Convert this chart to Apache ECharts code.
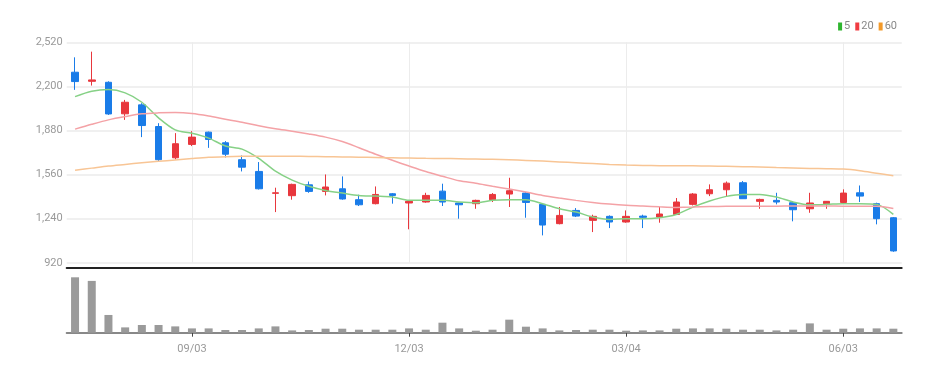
<!DOCTYPE html>
<html><head><meta charset="utf-8">
<script src="https://cdn.jsdelivr.net/npm/echarts@6/dist/echarts.min.js"></script>
<style>html,body{margin:0;padding:0;background:#fff}#c{width:946px;height:374px}</style>
</head><body><div id="c"></div>
<script>
const dates = ['07/16','07/23','07/30','08/06','08/13','08/20','08/27','09/03','09/10','09/17',
  '09/24','10/01','10/08','10/15','10/22','10/29','11/05','11/12','11/19','11/26',
  '12/03','12/10','12/17','12/24','12/31','01/07','01/14','01/21','01/28','02/04',
  '02/11','02/18','02/25','03/04','03/11','03/18','03/25','04/01','04/08','04/15',
  '04/22','04/29','05/06','05/13','05/20','05/27','06/03','06/10','06/17','06/24'];
const tickLabels = ['09/03','12/03','03/04','06/03'];
const opens = [2303,2237,2230,2001,2066,1909,1682,1779,1868,1791,1668,1583,1424,1407,1486,1438,1457,1378,1349,1421,1354,1361,1440,1354,1349,1378,1419,1426,1344,1204,1300,1228,1257,1216,1259,1252,1271,1344,1421,1450,1501,1366,1373,1356,1312,1349,1358,1428,1349,1247];
const closes = [2235,2247,2000,2085,1916,1668,1784,1832,1815,1708,1614,1457,1428,1489,1438,1470,1383,1341,1416,1409,1366,1409,1361,1341,1373,1416,1443,1358,1194,1264,1259,1257,1216,1257,1250,1274,1361,1419,1450,1498,1385,1380,1361,1305,1354,1366,1426,1404,1240,1006];
const lows = [2175,2206,1993,1957,1832,1658,1670,1767,1754,1684,1583,1452,1288,1378,1428,1409,1378,1332,1344,1349,1163,1356,1332,1240,1312,1361,1325,1247,1119,1199,1252,1143,1172,1211,1172,1211,1269,1336,1404,1404,1385,1312,1344,1221,1283,1312,1354,1361,1199,1000];
const highs = [2411,2452,2237,2102,2078,1933,1861,1875,1872,1803,1699,1651,1465,1494,1510,1561,1547,1414,1474,1426,1369,1428,1494,1356,1378,1426,1537,1433,1354,1325,1317,1269,1264,1300,1269,1325,1390,1426,1489,1510,1513,1385,1428,1361,1428,1368,1453,1481,1356,1252];
const volumes = [55300,51700,17700,5300,7700,7700,6300,4300,4300,2700,2700,4300,6300,2300,2700,4000,4000,3000,3000,3000,4300,3000,10000,4300,2000,3000,13000,6000,4300,2300,2700,3000,3000,2000,2300,2300,4000,4300,4300,4000,3000,3000,2300,3000,9300,3000,4000,4300,4300,4000];
const ma5 = [2126,2165,2177,2153,2085,1972,1885,1860,1825,1768,1745,1678,1585,1520,1475,1445,1426,1409,1404,1397,1373,1373,1373,1361,1355,1373,1378,1378,1349,1312,1288,1252,1235,1240,1240,1247,1271,1324,1368,1402,1416,1416,1397,1361,1341,1344,1349,1349,1344,1271];
const ma20 = [1890,1925,1957,1981,2001,2008,2010,2003,1985,1962,1940,1915,1893,1875,1855,1832,1800,1755,1708,1664,1622,1582,1548,1515,1497,1475,1455,1433,1409,1390,1373,1358,1346,1337,1332,1326,1322,1324,1328,1330,1331,1331,1331,1332,1332,1332,1331,1331,1330,1314];
const ma60 = [1592,1607,1622,1634,1646,1656,1666,1676,1685,1690,1693,1694,1694,1693,1692,1690,1688,1686,1684,1682,1680,1678,1677,1675,1673,1671,1667,1663,1658,1652,1646,1640,1634,1629,1626,1625,1625,1624,1622,1620,1617,1615,1611,1608,1605,1603,1600,1588,1570,1552];
const maNames = ['5','20','60'];

const FONT = "Roboto,'DejaVu Sans Condensed',sans-serif";
const UP = '#e8373d', DOWN = '#1a7ce8';
const isTick = (i, v) => tickLabels.indexOf(v !== undefined ? v : dates[i]) >= 0;

const chart = echarts.init(document.getElementById('c'), null, {renderer: 'canvas'});
chart.setOption({
  animation: false,
  backgroundColor: '#fff',
  legend: {
    right: 44, top: 16, itemWidth: 4, itemHeight: 8, itemGap: 5, icon: 'rect',
    textStyle: {fontSize: 11, color: '#888', fontFamily: FONT, padding: [0, 0, 0, -3]},
    data: [
      {name: maNames[0], itemStyle: {color: '#2fb52f'}},
      {name: maNames[1], itemStyle: {color: '#f03c42'}},
      {name: maNames[2], itemStyle: {color: '#f39a2a'}}
    ]
  },
  grid: [
    {left: 66.7, right: 44.3, top: 42.3, bottom: 111.2},
    {left: 66.7, right: 44.3, top: 277.3, bottom: 41.3}
  ],
  xAxis: [
    {
      type: 'category', data: dates, gridIndex: 0, boundaryGap: true, offset: 5,
      axisLine: {show: true, lineStyle: {color: '#222', width: 2}},
      axisTick: {show: false}, axisLabel: {show: false},
      splitLine: {show: true, alignWithLabel: true, interval: isTick, lineStyle: {color: '#ececec', width: 1}}
    },
    {
      type: 'category', data: dates, gridIndex: 1, boundaryGap: true,
      axisLine: {show: true, lineStyle: {color: '#888', width: 2}},
      axisTick: {show: true, alignWithLabel: true, interval: isTick, length: 4, lineStyle: {color: '#444'}},
      axisLabel: {show: true, interval: isTick, margin: 11, fontSize: 11, color: '#999', fontFamily: FONT},
      splitLine: {show: false}
    }
  ],
  yAxis: [
    {
      type: 'value', gridIndex: 0, min: 920, max: 2520, interval: 320, scale: true,
      axisLine: {show: false}, axisTick: {show: false},
      axisLabel: {fontSize: 11, color: '#999', margin: 4, fontFamily: FONT,
        formatter: v => v.toLocaleString('en-US')},
      splitLine: {show: true, lineStyle: {color: '#f0f0f0', width: 2}}
    },
    {
      type: 'value', gridIndex: 1, min: 0, max: 'dataMax',
      axisLine: {show: false}, axisTick: {show: false}, axisLabel: {show: false},
      splitLine: {show: false}
    }
  ],
  series: [
    {
      type: 'candlestick', name: 'price', xAxisIndex: 0, yAxisIndex: 0, barWidth: 7,
      data: dates.map((d, i) => [opens[i], closes[i], lows[i], highs[i]]),
      itemStyle: {color: UP, color0: DOWN, borderColor: UP, borderColor0: DOWN, borderWidth: 1}
    },
    {
      type: 'line', name: maNames[0], data: ma5, smooth: 0.3, showSymbol: false,
      lineStyle: {color: '#86d186', width: 1.5}, itemStyle: {color: '#2fb52f'}
    },
    {
      type: 'line', name: maNames[1], data: ma20, smooth: 0.3, showSymbol: false,
      lineStyle: {color: '#f4a2a6', width: 1.5}, itemStyle: {color: '#f03c42'}
    },
    {
      type: 'line', name: maNames[2], data: ma60, smooth: 0.3, showSymbol: false,
      lineStyle: {color: '#f8c595', width: 1.5}, itemStyle: {color: '#f39a2a'}
    },
    {
      type: 'bar', name: 'volume', xAxisIndex: 1, yAxisIndex: 1, data: volumes, barWidth: 8,
      itemStyle: {color: '#9a9a9a'}
    }
  ]
});
</script>
</body></html>
